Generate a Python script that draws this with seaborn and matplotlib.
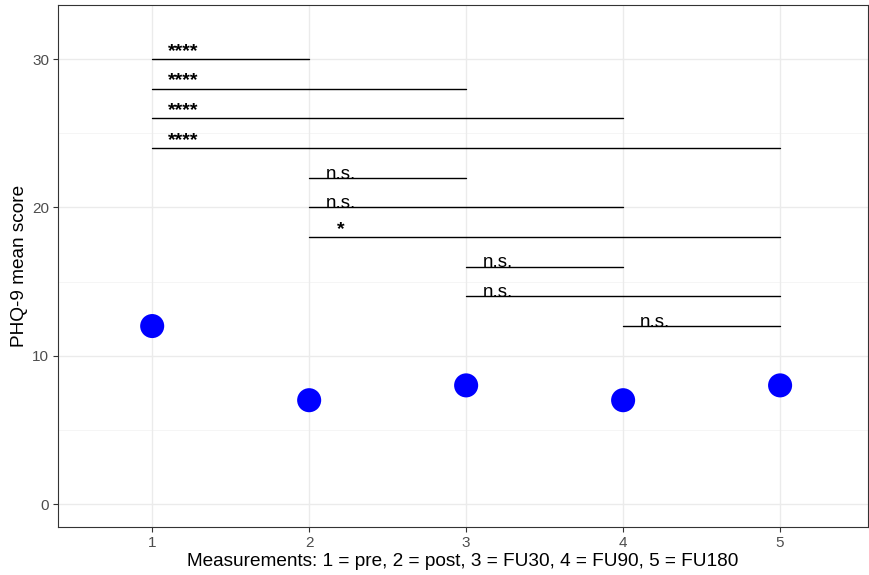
import matplotlib
matplotlib.use("Agg")
import matplotlib.pyplot as plt
import seaborn as sns
import pandas as pd

measurement = [1, 2, 3, 4, 5]
phq9_mean = [12, 7, 8, 7, 8]

comp_start = [1, 1, 1, 1, 2, 2, 2, 3, 3, 4]
comp_end = [2, 3, 4, 5, 3, 4, 5, 4, 5, 5]
comp_y = [30, 28, 26, 24, 22, 20, 18, 16, 14, 12]
comp_label = ["****", "****", "****", "****", "n.s.", "n.s.", "*", "n.s.", "n.s.", "n.s."]

sns.set_theme(style="white")
plt.rcParams['font.family'] = ['Liberation Sans', 'DejaVu Sans']

fig = plt.figure(figsize=(8.69, 5.75), dpi=100)
ax = fig.add_axes([58 / 869, 1 - 527 / 575, 810 / 869, 522 / 575])

df = pd.DataFrame({"m": measurement, "y": phq9_mean})

ax.set_xlim(0.4, 5.56)
ax.set_ylim(-1.55, 33.65)

# grid
for yv in [5, 15, 25]:
    ax.axhline(yv, color="#F4F4F4", lw=0.6, zorder=0)
for yv in [0, 10, 20, 30]:
    ax.axhline(yv, color="#EBEBEB", lw=1.0, zorder=0)
for xv in measurement:
    ax.axvline(xv, color="#EBEBEB", lw=1.0, zorder=0)

# significance bars
for s, e, y, lab in zip(comp_start, comp_end, comp_y, comp_label):
    ax.plot([s, e], [y, y], color="black", lw=1.0, zorder=2)
    is_star = lab.startswith("*")
    ax.text(s + 0.2, y + (0.22 if is_star else -0.05), lab, ha="center",
            va="baseline", fontsize=14 if is_star else 13.5,
            fontweight="bold" if is_star else "normal",
            color="black", zorder=3)

sns.scatterplot(data=df, x="m", y="y", ax=ax, color="#0000FF", s=300,
                edgecolor="none", zorder=4, legend=False)

ax.set_xticks(measurement)
ax.set_xticklabels([str(v) for v in measurement])
ax.set_yticks([0, 10, 20, 30])
ax.tick_params(axis="both", which="major", length=3.5, width=0.8,
               color="#333333", labelsize=11, labelcolor="#4D4D4D",
               direction="out", pad=3, bottom=True, left=True)
for sp in ax.spines.values():
    sp.set_color("#333333")
    sp.set_linewidth(0.8)
    sp.set_visible(True)

ax.set_xlabel("Measurements: 1 = pre, 2 = post, 3 = FU30, 4 = FU90, 5 = FU180",
              fontsize=13.7, color="black", labelpad=2)
ax.set_ylabel("PHQ-9 mean score", fontsize=13.7, color="black", labelpad=3)

fig.savefig("out.png", dpi=100, facecolor="white")
